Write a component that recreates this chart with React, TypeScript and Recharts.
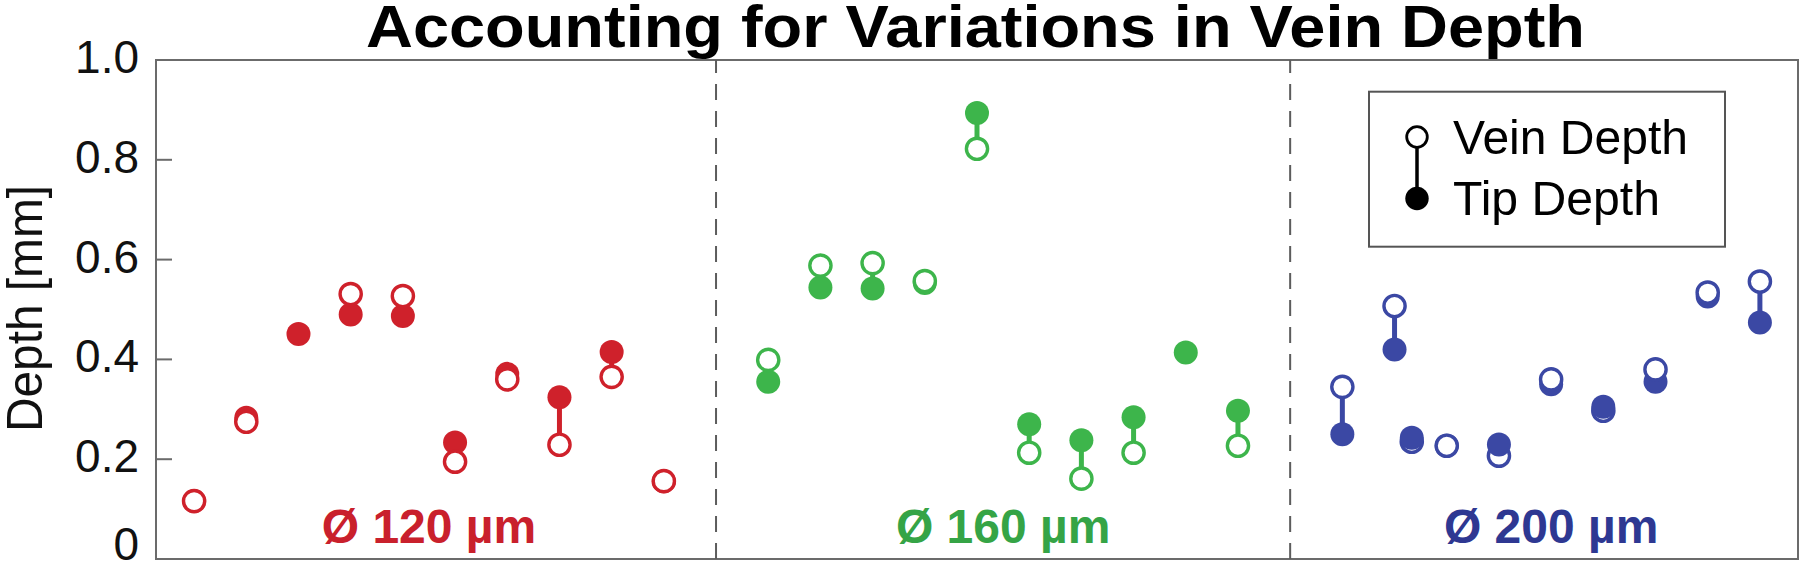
import React from 'react';
import { ScatterChart, Scatter, XAxis, YAxis, ReferenceLine, ReferenceArea, ErrorBar } from 'recharts';

const FONT = '"Liberation Sans", Arial, Helvetica, sans-serif';

// x slot of each insertion, per needle diameter
const redX = [0, 1, 2, 3, 4, 5, 6, 7, 8, 9];
const greenX = [11, 12, 13, 14, 15, 16, 17, 18, 19, 20];
const blueX = [22, 23, 23.33, 24, 25, 26, 27, 28, 29, 30];

// depths in mm (null = marker not shown)
const redVein = [0.116, 0.275, null, 0.531, 0.527, 0.195, 0.36, 0.229, 0.365, 0.156];
const redTip = [0.116, 0.283, 0.451, 0.49, 0.487, 0.2335, 0.371, 0.324, 0.415, 0.156];

const greenVein = [0.399, 0.588, 0.593, 0.557, 0.822, 0.213, 0.161, 0.213, null, 0.227];
const greenTip = [0.355, 0.544, 0.542, 0.553, 0.894, 0.27, 0.238, 0.284, 0.414, 0.297];

const blueVein = [0.345, 0.507, 0.235, 0.227, 0.207, 0.36, 0.297, 0.38, 0.534, 0.556];
const blueTip = [0.25, 0.42, 0.243, 0.227, 0.2295, 0.35, 0.305, 0.355, 0.526, 0.474];

const yTicks = [0, 0.2, 0.4, 0.6, 0.8, 1.0];
const dividers = [10, 21];
const groupLabels = ['Ø 120 µm', 'Ø 160 µm', 'Ø 200 µm'];
const groupLabelX = [4.5, 15.5, 26];
const LABEL_Y = 0.0315;
const X_DOMAIN: [number, number] = [-0.73, 30.73];

const RED = '#cf212b';
const GREEN = '#3db54b';
const BLUE = '#3b48a4';
const labelColors = ['#c9202c', '#35a446', '#2e3892'];
const AXIS = '#6b6b6b';

type Pair = { x: number; vein: number | null; tip: number | null };

const pairs = (xs: number[], vein: (number | null)[], tip: (number | null)[]): Pair[] =>
  xs.map((x, i) => ({ x, vein: vein[i], tip: tip[i] }));

const filledDot = (color: string) => (p: any) => <circle cx={p.cx} cy={p.cy} r={12} fill={color} />;
const openDot = (color: string) => (p: any) => (
  <circle cx={p.cx} cy={p.cy} r={10.6} fill="#fff" stroke={color} strokeWidth={3.4} />
);
const noDot = () => <g />;

const LabelShape = (p: any) => (
  <text
    x={p.cx}
    y={p.cy}
    textAnchor="middle"
    fontFamily={FONT}
    fontWeight="bold"
    fontSize={48}
    fill={p.payload.color}
  >
    {p.payload.text}
  </text>
);

const LeftTick = (p: any) => {
  const v = p.payload.value;
  const base = v === 0 ? p.y + 1 : p.y + 13;
  return (
    <g>
      <line x1={p.x} x2={p.x + 16} y1={p.y} y2={p.y} stroke={AXIS} strokeWidth={2} />
      <text x={p.x - 17} y={base} textAnchor="end" fontSize={46} fontFamily={FONT} fill="#111">
        {v === 0 ? '0' : v.toFixed(1)}
      </text>
    </g>
  );
};

const RightTick = (p: any) => (
  <line x1={p.x - 16} x2={p.x} y1={p.y} y2={p.y} stroke={AXIS} strokeWidth={2} />
);

// draws one diameter group: connector lines, then markers (higher one on top if highOnTop)
const renderGroup = (key: string, data: Pair[], color: string, highOnTop: boolean) => {
  const lines = data
    .filter((d) => d.vein != null && d.tip != null)
    .map((d) => {
      const v = d.vein as number;
      const t = d.tip as number;
      return { x: d.x, y: t, err: v > t ? [0, v - t] : [t - v, 0] };
    });
  const tipAbove = (d: Pair) => highOnTop && d.tip != null && d.vein != null && d.tip > d.vein;
  const a = data.filter((d) => !tipAbove(d));
  const b = data.filter((d) => tipAbove(d));
  const pts = (arr: Pair[], k: 'vein' | 'tip') =>
    arr.filter((d) => d[k] != null).map((d) => ({ x: d.x, y: d[k] as number }));

  return [
    <Scatter key={key + '-line'} data={lines} shape={noDot} isAnimationActive={false}>
      <ErrorBar
        dataKey="err"
        direction="y"
        width={0}
        stroke={color}
        strokeWidth={5}
        style={{ strokeWidth: 5 }}
        isAnimationActive={false}
      />
    </Scatter>,
    <Scatter key={key + '-a-tip'} data={pts(a, 'tip')} shape={filledDot(color)} isAnimationActive={false} />,
    <Scatter key={key + '-a-vein'} data={pts(a, 'vein')} shape={openDot(color)} isAnimationActive={false} />,
    <Scatter key={key + '-b-vein'} data={pts(b, 'vein')} shape={openDot(color)} isAnimationActive={false} />,
    <Scatter key={key + '-b-tip'} data={pts(b, 'tip')} shape={filledDot(color)} isAnimationActive={false} />,
  ];
};

const App = () => {
  const labelData = groupLabels.map((text, i) => ({
    x: groupLabelX[i],
    y: LABEL_Y,
    text,
    color: labelColors[i],
  }));

  return (
    <div style={{ position: 'absolute', left: 0, top: 0, width: 1800, height: 561, background: '#fff' }}>
      <ScatterChart width={1800} height={561} margin={{ top: 60, right: 0, bottom: 2, left: 0 }}>
        <XAxis type="number" dataKey="x" domain={X_DOMAIN} allowDataOverflow hide />
        <YAxis
          type="number"
          dataKey="y"
          domain={[0, 1]}
          ticks={yTicks}
          interval={0}
          allowDataOverflow
          width={156}
          axisLine={false}
          tickLine={false}
          tickSize={0}
          tickMargin={0}
          tick={<LeftTick />}
        />
        <YAxis
          yAxisId="right"
          orientation="right"
          type="number"
          dataKey="y"
          domain={[0, 1]}
          ticks={yTicks}
          interval={0}
          width={2}
          axisLine={false}
          tickLine={false}
          tickSize={0}
          tickMargin={0}
          tick={<RightTick />}
        />
        <ReferenceArea
          x1={X_DOMAIN[0]}
          x2={X_DOMAIN[1]}
          y1={0}
          y2={1}
          fill="none"
          fillOpacity={0}
          stroke={AXIS}
          strokeWidth={2}
        />
        {dividers.map((d) => (
          <ReferenceLine key={d} x={d} stroke="#5c5c5c" strokeWidth={2} strokeDasharray="16 11" />
        ))}
        {renderGroup('red', pairs(redX, redVein, redTip), RED, false)}
        {renderGroup('green', pairs(greenX, greenVein, greenTip), GREEN, false)}
        {renderGroup('blue', pairs(blueX, blueVein, blueTip), BLUE, true)}
        <Scatter data={labelData} shape={LabelShape} isAnimationActive={false} />
      </ScatterChart>

      <svg
        width={1800}
        height={561}
        style={{ position: 'absolute', left: 0, top: 0, pointerEvents: 'none' }}
      >
        <text
          x={975.5}
          y={47}
          textAnchor="middle"
          fontFamily={FONT}
          fontWeight="bold"
          fontSize={59}
          textLength={1219}
          lengthAdjust="spacingAndGlyphs"
          fill="#000"
        >
          Accounting for Variations in Vein Depth
        </text>
        <text
          transform="translate(42, 308.5) rotate(-90)"
          textAnchor="middle"
          fontFamily={FONT}
          fontSize={50}
          textLength={247}
          lengthAdjust="spacingAndGlyphs"
          fill="#111"
        >
          Depth [mm]
        </text>

        <rect x={1369} y={91.7} width={356} height={155} fill="#fff" stroke="#555" strokeWidth={2} />
        <line x1={1417} x2={1417} y1={137} y2={198} stroke="#000" strokeWidth={3.5} />
        <circle cx={1417} cy={137} r={10.3} fill="#fff" stroke="#000" strokeWidth={2.8} />
        <circle cx={1417} cy={198.5} r={11.7} fill="#000" />
        <text x={1453} y={154} fontFamily={FONT} fontSize={48} textLength={235} lengthAdjust="spacingAndGlyphs" fill="#000">
          Vein Depth
        </text>
        <text x={1453} y={215} fontFamily={FONT} fontSize={48} textLength={207} lengthAdjust="spacingAndGlyphs" fill="#000">
          Tip Depth
        </text>
      </svg>
    </div>
  );
};

export default App;
